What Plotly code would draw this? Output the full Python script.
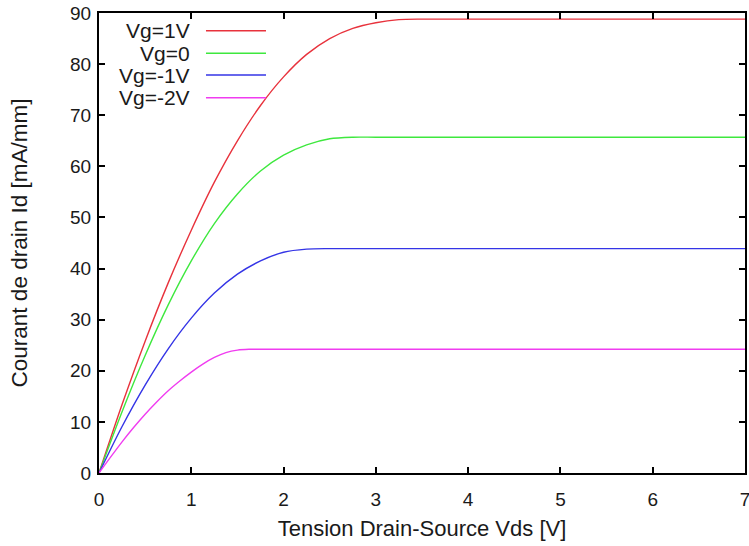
import plotly.graph_objects as go

# Values (Vds in V, Id in mA/mm)
vds_red = [0, 0.25, 0.5, 0.75, 1.0, 1.25, 1.5, 1.75, 2.0, 2.25, 2.5, 2.75, 3.0, 3.25, 3.5, 4, 5, 6, 7.0]
id_red = [0, 13.4, 25.8, 37.2, 47.5, 56.9, 65.0, 71.9, 77.5, 81.9, 85.0, 87.0, 88.1, 88.7, 88.8, 88.8, 88.8, 88.8, 88.8]

vds_green = [0, 0.25, 0.5, 0.75, 1.0, 1.25, 1.5, 1.75, 2.0, 2.25, 2.5, 2.75, 3, 4, 5, 6, 7.0]
id_green = [0, 12.0, 23.0, 32.9, 41.5, 48.8, 54.6, 59.1, 62.2, 64.2, 65.4, 65.7, 65.7, 65.7, 65.7, 65.7, 65.7]

vds_blue = [0, 0.25, 0.5, 0.75, 1.0, 1.25, 1.5, 1.75, 2.0, 2.25, 2.5, 3, 4, 5, 6, 7.0]
id_blue = [0, 9.1, 17.2, 24.3, 30.3, 35.2, 38.9, 41.5, 43.2, 43.8, 43.9, 43.9, 43.9, 43.9, 43.9, 43.9]

vds_mag = [0, 0.125, 0.25, 0.375, 0.5, 0.625, 0.75, 0.875, 1.0, 1.125, 1.25, 1.375, 1.5, 1.625, 2, 3, 4, 5, 6, 7.0]
id_mag = [0, 3.1, 6.1, 8.9, 11.5, 13.9, 16.1, 18.0, 19.75, 21.3, 22.6, 23.55, 24.05, 24.2, 24.2, 24.2, 24.2, 24.2, 24.2, 24.2]

labels = ["Vg=1V", "Vg=0", "Vg=-1V", "Vg=-2V"]
colors = ["#e8323c", "#3ee83e", "#3434e6", "#f03cf0"]
series = [(vds_red, id_red), (vds_green, id_green), (vds_blue, id_blue), (vds_mag, id_mag)]

x_ticks = [0, 1, 2, 3, 4, 5, 6, 7]
y_ticks = [0, 10, 20, 30, 40, 50, 60, 70, 80, 90]

FONT = "Liberation Sans, Arial, sans-serif"
TXT = "#1a1a1a"

fig = go.Figure()
for (xs, ys), name, c in zip(series, labels, colors):
    fig.add_trace(go.Scatter(x=xs, y=ys, mode="lines", name=name,
                             line=dict(color=c, width=1.4, shape="spline", smoothing=0.8),
                             showlegend=False, cliponaxis=True, hoverinfo="skip"))

# Gnuplot-style legend: label text then a line sample, inside top-left
legend_rows = [0.9615, 0.9124, 0.8652, 0.8159]
for name, c, yr in zip(labels, colors, legend_rows):
    fig.add_annotation(x=0.144, y=yr, xref="paper", yref="paper", text=name,
                       showarrow=False, xanchor="right", yanchor="middle",
                       font=dict(family=FONT, size=21, color=TXT))
    fig.add_shape(type="line", xref="paper", yref="paper", x0=0.1656, x1=0.2585,
                  y0=yr, y1=yr, line=dict(color=c, width=1.4))

axis_common = dict(showline=True, linecolor="black", linewidth=2, mirror="allticks",
                   ticks="inside", ticklen=6, tickwidth=1.5, tickcolor="black",
                   showgrid=False, zeroline=False, ticklabeloverflow="allow",
                   tickfont=dict(family=FONT, size=19, color=TXT))

fig.update_xaxes(range=[0, 7], tickvals=x_ticks, ticktext=[str(v) for v in x_ticks],
                 ticklabelstandoff=8,
                 title=dict(text="Tension Drain-Source Vds [V]", standoff=12,
                            font=dict(family=FONT, size=22, color=TXT)),
                 **axis_common)
fig.update_yaxes(range=[0, 90], tickvals=y_ticks, ticktext=[str(v) for v in y_ticks],
                 ticklabelstandoff=2,
                 title=dict(text="Courant de drain Id [mA/mm]", standoff=36,
                            font=dict(family=FONT, size=22.5, color=TXT)),
                 **axis_common)

fig.update_layout(width=749, height=546,
                  margin=dict(l=99, r=4, t=13, b=73, autoexpand=False),
                  paper_bgcolor="white", plot_bgcolor="white")

# Remove the browser's default 8px body margin so the figure fills the window
fig.write_html("out.html", config={"displayModeBar": False},
               post_script="document.body.style.margin='0';document.body.style.overflow='hidden';")
